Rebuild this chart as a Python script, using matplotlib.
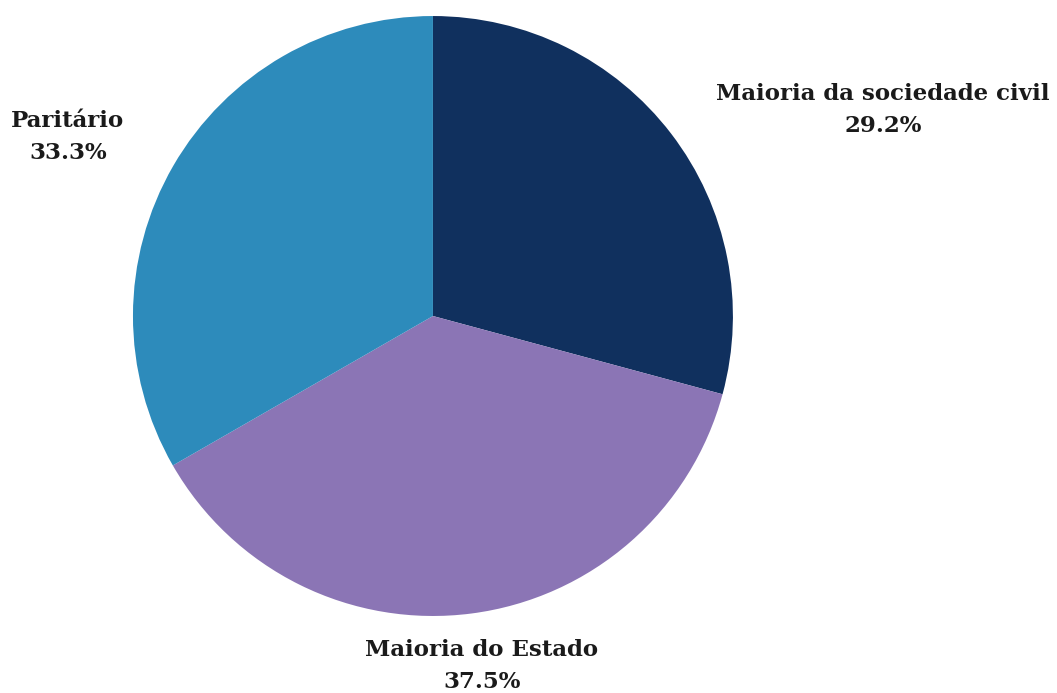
import matplotlib
matplotlib.use("Agg")
import matplotlib.pyplot as plt

labels = ["Maioria da sociedade civil", "Maioria do Estado", "Paritário"]
shares = [29.2, 37.5, 33.3]
colors = ["#10305e", "#8b75b5", "#2d8bbb"]

# label anchor positions (axes data units, pie radius = 1)
label_pos = [(1.5, 0.687), (0.163, -1.167), (-1.217, 0.597)]

fig = plt.figure(figsize=(10.57, 6.93), dpi=100)
ax = fig.add_axes([0.1258, 0.1111, 0.5676, 0.8658])

ax.pie(shares, colors=colors, startangle=90, counterclock=False, radius=1)
ax.set_xlim(-1, 1)
ax.set_ylim(-1, 1)
ax.set_aspect("equal")
ax.axis("off")

for lab, val, (x, y) in zip(labels, shares, label_pos):
    ax.text(x, y, lab + "\n" + str(val) + "%", ha="center", va="center",
            fontsize=16.5, fontweight="bold", family="DejaVu Serif",
            color="#1a1a1a", linespacing=1.55, clip_on=False)

fig.savefig("out.png", dpi=100, facecolor="white")
